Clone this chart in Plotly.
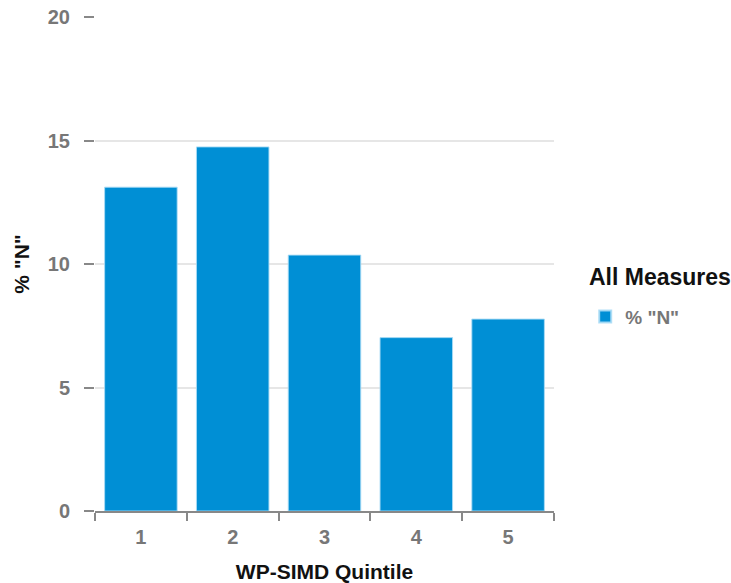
import plotly.graph_objects as go

categories = ["1", "2", "3", "4", "5"]
values = [13.11, 14.74, 10.36, 7.02, 7.77]
series_name = '% "N"'
legend_title = "All Measures"
y_ticks = [0, 5, 10, 15, 20]

fig = go.Figure()
fig.add_trace(go.Bar(
    x=categories, y=values, name=series_name,
    marker=dict(color="#008FD5", line=dict(color="rgba(170,220,245,0.9)", width=1)),
    showlegend=True,
))

font_family = "Liberation Sans, Arial, sans-serif"
fig.update_layout(
    width=731, height=583,
    margin=dict(l=95, r=177, t=17, b=72, autoexpand=False),
    plot_bgcolor="white", paper_bgcolor="white",
    bargap=0.21,
    font=dict(family=font_family),
    showlegend=True,
    legend=dict(
        font=dict(size=19, color="#777", weight="bold"),
        x=1.068, xanchor="left", y=0.432, yanchor="top",
        itemsizing="constant",
    ),
    annotations=[dict(
        text=legend_title, xref="paper", yref="paper",
        x=1.072, y=0.474, xanchor="left", yanchor="middle", showarrow=False,
        font=dict(size=23, color="#111", weight="bold"),
    )],
    xaxis=dict(
        type="category", automargin=False,
        title=dict(text="WP-SIMD Quintile", font=dict(size=21, color="#111", weight="bold"), standoff=19),
        tickfont=dict(size=20, color="#777", weight="bold"),
        showline=True, linecolor="#888", linewidth=2,
        ticks="outside", ticklen=8, tickcolor="#888", tickwidth=2,
        tickson="boundaries",
        ticklabelstandoff=7,
        showgrid=False,
    ),
    yaxis=dict(
        range=[0, 20], tickvals=y_ticks, automargin=False,
        title=dict(text='% "N"', font=dict(size=21, color="#111", weight="bold"), standoff=12),
        tickfont=dict(size=20, color="#777", weight="bold"),
        showgrid=True, gridcolor="#e6e6e6", gridwidth=2,
        ticks="outside", ticklen=10, tickcolor="#888", tickwidth=2,
        ticklabelstandoff=10,
        showline=False, zeroline=False,
    ),
)

fig.write_html("out.html")
